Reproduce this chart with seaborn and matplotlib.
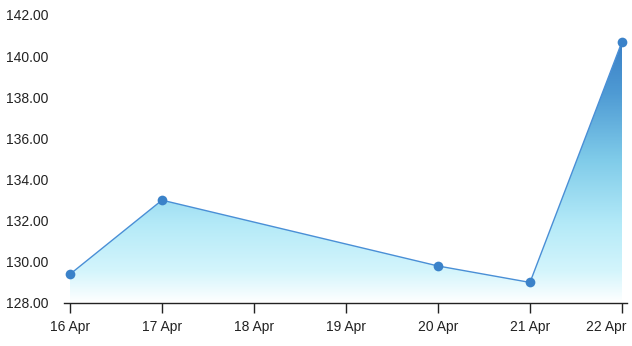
import numpy as np
import pandas as pd
import matplotlib
matplotlib.use("Agg")
import matplotlib.pyplot as plt
import matplotlib.dates as mdates
import matplotlib.transforms as mtransforms
from matplotlib.colors import LinearSegmentedColormap
import seaborn as sns

dates = ["2024-04-16", "2024-04-17", "2024-04-20", "2024-04-21", "2024-04-22"]
values = [129.4, 133.0, 129.8, 129.0, 140.7]
tick_dates = ["2024-04-16", "2024-04-17", "2024-04-18", "2024-04-19",
              "2024-04-20", "2024-04-21", "2024-04-22"]
tick_labels = ["16 Apr", "17 Apr", "18 Apr", "19 Apr", "20 Apr", "21 Apr", "22 Apr"]
y_ticks = [128, 130, 132, 134, 136, 138, 140, 142]

sns.set_style("white")
plt.rcParams['font.family'] = ['Liberation Sans', 'DejaVu Sans']

df = pd.DataFrame({"date": pd.to_datetime(dates), "value": values})
xnum = mdates.date2num(df["date"])

fig = plt.figure(figsize=(6.32, 3.46), dpi=100)
ax = fig.add_axes([64/632, 43/346, 563/632, 288/346])

ymin, ymax = 128, 142
poly = ax.fill_between(xnum, values, ymin, color="none", lw=0)
cmap = LinearSegmentedColormap.from_list("g", [
    (0.0, "#ffffff"), (0.12, "#d4f5fc"), (0.3, "#b4eaf8"),
    (0.55, "#7fcbe9"), (0.8, "#4f9bd4"), (1.0, "#3a7fc6")])
grad = np.linspace(0, 1, 256).reshape(-1, 1)
x0 = mdates.date2num(pd.Timestamp("2024-04-16"))
x1 = mdates.date2num(pd.Timestamp("2024-04-22"))
im = ax.imshow(grad, cmap=cmap, origin="lower", aspect="auto",
               extent=[x0, x1, ymin, max(values)], zorder=1)
path = poly.get_paths()[0]
im.set_clip_path(path, transform=ax.transData)

sns.lineplot(data=df, x=xnum, y="value", ax=ax, color="#4a8fd6", lw=1.0,
             marker="o", markersize=7, markeredgewidth=0,
             markerfacecolor="#3b82c9", zorder=3)

ax.set_xlim(x0 - 6/92, x1 + 5/92)
ax.set_ylim(ymin, ymax)
ax.set_xticks(mdates.date2num(pd.to_datetime(tick_dates)))
ax.set_xticklabels(tick_labels)
ax.set_yticks(y_ticks)
ax.set_yticklabels([f"{v:.2f}" for v in y_ticks])
ax.set_xlabel("")
ax.set_ylabel("")
for s in ["top", "right", "left"]:
    ax.spines[s].set_visible(False)
ax.spines["bottom"].set_color("#222222")
ax.spines["bottom"].set_linewidth(1.0)
ax.tick_params(axis="x", length=7, width=1, color="#222222", labelsize=10,
               labelcolor="#222222", pad=5, bottom=True)
ax.tick_params(axis="y", length=0, labelsize=10, labelcolor="#222222", pad=11.5)

last = ax.get_xticklabels()[-1]
last.set_horizontalalignment("right")
last.set_transform(last.get_transform() +
                   mtransforms.ScaledTranslation(4/100, 0, fig.dpi_scale_trans))

fig.savefig("out.png", dpi=100)
